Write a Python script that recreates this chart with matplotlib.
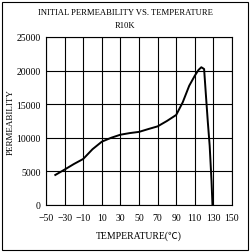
import matplotlib
matplotlib.use("Agg")
import matplotlib.pyplot as plt
from matplotlib.patches import Rectangle

# data
temperature = [-40, -30, -20, -10, 0, 10, 20, 30, 40, 50, 60, 70, 80, 90, 97, 104, 110, 114, 117, 120, 122, 124, 126, 128, 129]
permeability = [4470, 5270, 6100, 6850, 8300, 9420, 10000, 10460, 10700, 10880, 11300, 11700, 12500, 13400, 15280, 17750, 19240, 20100, 20500, 20240, 16260, 12350, 8800, 3500, 0]

x_ticks = [-50, -30, -10, 10, 30, 50, 70, 90, 110, 130, 150]
y_ticks = [0, 5000, 10000, 15000, 20000, 25000]

plt.rcParams["font.family"] = ["Liberation Serif", "Noto Sans CJK SC", "DejaVu Sans"]

fig = plt.figure(figsize=(2.5, 2.53), dpi=100)
ax = fig.add_axes([46 / 250, 1 - 206 / 253, 186 / 250, 168 / 253])

ax.plot(temperature, permeability, color="black", linewidth=1.4)

ax.set_xlim(-50, 150)
ax.set_ylim(0, 25000)
ax.set_xticks(x_ticks)
ax.set_yticks(y_ticks)
ax.tick_params(axis="x", length=0, labelsize=7, pad=6)
ax.tick_params(axis="y", length=0, labelsize=7, pad=4)
ax.grid(color="black", linewidth=0.8)
for s in ax.spines.values():
    s.set_linewidth(0.8)

ax.set_xlabel("TEMPERATURE(\u2103)", fontsize=7, labelpad=6)
ax.set_ylabel("PERMEABILITY", fontsize=6.5, labelpad=1)

fig.text(0.5, 1 - 13 / 253, "INITIAL PERMEABILITY VS. TEMPERATURE", ha="center", va="center", fontsize=6.2)
fig.text(0.5, 1 - 26 / 253, "R10K", ha="center", va="center", fontsize=6.2)

fig.patches.append(Rectangle((2 / 250, 2 / 253), 246 / 250, 248 / 253, transform=fig.transFigure,
                             fill=False, edgecolor="black", linewidth=0.8))

fig.savefig("out.png", dpi=100)
